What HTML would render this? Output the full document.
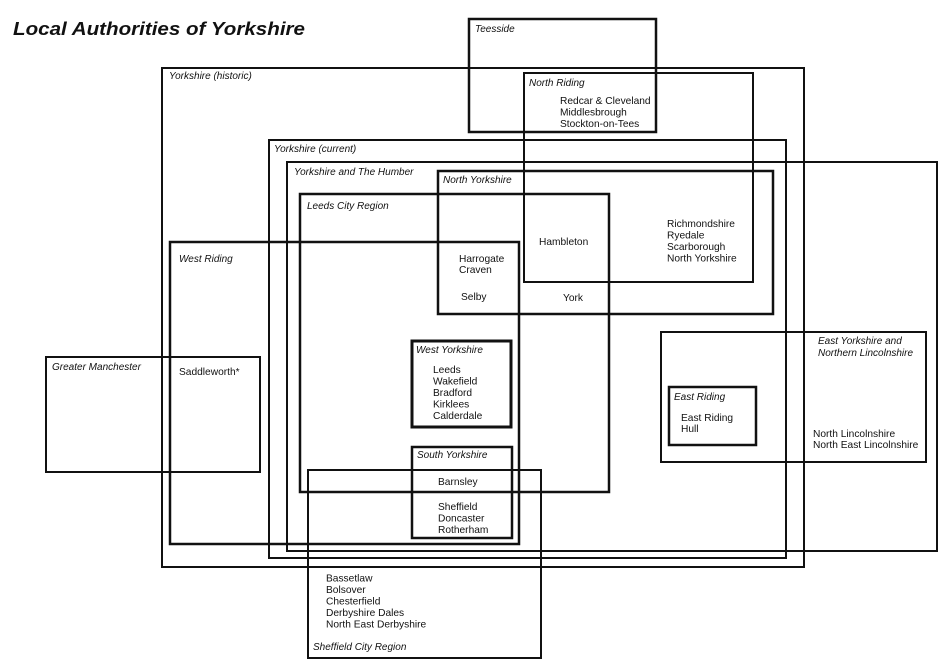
<!DOCTYPE html>
<html>
<head>
<meta charset="utf-8">
<style>
html,body{margin:0;padding:0;background:#fff;}
svg{display:block;}
text{font-family:"Liberation Sans",Arial,sans-serif;fill:#111;}
.l{font-style:italic;font-size:10px;}
.n{font-size:10.2px;}
rect{fill:none;stroke:#111;}
</style>
</head>
<body>
<svg width="945" height="668" viewBox="0 0 945 668" xmlns="http://www.w3.org/2000/svg">
<rect x="0" y="0" width="945" height="668" style="fill:#fff;stroke:none"/>
<text x="13" y="35" style="font-size:18px;font-weight:bold;font-style:italic" textLength="292" lengthAdjust="spacingAndGlyphs">Local Authorities of Yorkshire</text>

<!-- boxes -->
<rect x="162" y="68" width="642" height="499" stroke-width="2"/>
<rect x="469" y="19" width="187" height="113" stroke-width="2.5"/>
<rect x="524" y="73" width="229" height="209" stroke-width="2"/>
<rect x="269" y="140" width="517" height="418" stroke-width="2"/>
<rect x="287" y="162" width="650" height="389" stroke-width="2"/>
<rect x="438" y="171" width="335" height="143" stroke-width="2.5"/>
<rect x="300" y="194" width="309" height="298" stroke-width="2.5"/>
<rect x="170" y="242" width="349" height="302" stroke-width="2.5"/>
<rect x="46" y="357" width="214" height="115" stroke-width="2"/>
<rect x="412" y="341" width="99" height="86" stroke-width="3"/>
<rect x="412" y="447" width="100" height="91" stroke-width="2.5"/>
<rect x="308" y="470" width="233" height="188" stroke-width="2"/>
<rect x="661" y="332" width="265" height="130" stroke-width="2"/>
<rect x="669" y="387" width="87" height="58" stroke-width="2.5"/>

<!-- italic labels -->
<text class="l" x="475" y="32">Teesside</text>
<text class="l" x="169" y="79">Yorkshire (historic)</text>
<text class="l" x="529" y="86">North Riding</text>
<text class="l" x="274" y="152">Yorkshire (current)</text>
<text class="l" x="294" y="175">Yorkshire and The Humber</text>
<text class="l" x="443" y="183">North Yorkshire</text>
<text class="l" x="307" y="209">Leeds City Region</text>
<text class="l" x="179" y="262">West Riding</text>
<text class="l" x="52" y="370">Greater Manchester</text>
<text class="l" x="416" y="353">West Yorkshire</text>
<text class="l" x="417" y="458">South Yorkshire</text>
<text class="l" x="313" y="650">Sheffield City Region</text>
<text class="l" x="818" y="344">East Yorkshire and</text>
<text class="l" x="818" y="356">Northern Lincolnshire</text>
<text class="l" x="674" y="400">East Riding</text>

<!-- names -->
<text class="n" x="560" y="104">Redcar &amp; Cleveland</text>
<text class="n" x="560" y="115.5">Middlesbrough</text>
<text class="n" x="560" y="127">Stockton-on-Tees</text>

<text class="n" x="539" y="245">Hambleton</text>
<text class="n" x="667" y="227">Richmondshire</text>
<text class="n" x="667" y="238.5">Ryedale</text>
<text class="n" x="667" y="250">Scarborough</text>
<text class="n" x="667" y="261.5">North Yorkshire</text>

<text class="n" x="459" y="262">Harrogate</text>
<text class="n" x="459" y="273">Craven</text>
<text class="n" x="461" y="300">Selby</text>
<text class="n" x="563" y="301">York</text>

<text class="n" x="179" y="375">Saddleworth*</text>

<text class="n" x="433" y="373">Leeds</text>
<text class="n" x="433" y="384.5">Wakefield</text>
<text class="n" x="433" y="396">Bradford</text>
<text class="n" x="433" y="407.5">Kirklees</text>
<text class="n" x="433" y="419">Calderdale</text>

<text class="n" x="438" y="485">Barnsley</text>
<text class="n" x="438" y="510">Sheffield</text>
<text class="n" x="438" y="521.5">Doncaster</text>
<text class="n" x="438" y="533">Rotherham</text>

<text class="n" x="326" y="581.5">Bassetlaw</text>
<text class="n" x="326" y="593">Bolsover</text>
<text class="n" x="326" y="604.5">Chesterfield</text>
<text class="n" x="326" y="616">Derbyshire Dales</text>
<text class="n" x="326" y="627.5">North East Derbyshire</text>

<text class="n" x="681" y="421">East Riding</text>
<text class="n" x="681" y="432">Hull</text>

<text class="n" x="813" y="437">North Lincolnshire</text>
<text class="n" x="813" y="448">North East Lincolnshire</text>
</svg>
</body>
</html>
